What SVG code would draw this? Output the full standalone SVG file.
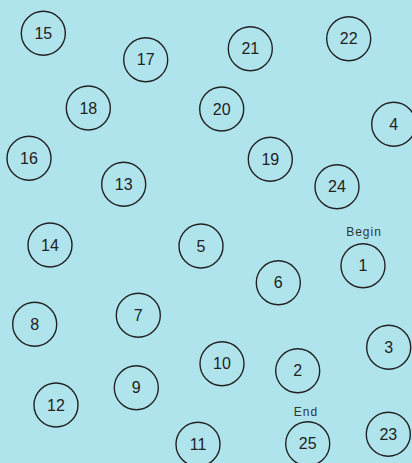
<svg xmlns="http://www.w3.org/2000/svg" width="412" height="463" viewBox="0 0 412 463">
<style>
.n circle{fill:none;stroke:#222;stroke-width:1.4}
.n text{font-family:"Liberation Sans",Arial,sans-serif;font-size:16px;fill:#222;text-anchor:middle;dominant-baseline:central}
.n text.lbl{font-size:12px;letter-spacing:1px;fill:#333;dominant-baseline:auto}
</style>
<rect width="412" height="463" fill="#b0e4ed"/>
<g id="connectors"></g>
<g id="n15" class="n"><circle cx="43.3" cy="33.3" r="22"/><text x="43.3" y="33.3">15</text></g>
<g id="n17" class="n"><circle cx="145.7" cy="59.7" r="22"/><text x="145.7" y="59.7">17</text></g>
<g id="n21" class="n"><circle cx="250.3" cy="48.7" r="22"/><text x="250.3" y="48.7">21</text></g>
<g id="n22" class="n"><circle cx="348.7" cy="38.7" r="22"/><text x="348.7" y="38.7">22</text></g>
<g id="n18" class="n"><circle cx="88.3" cy="108" r="22"/><text x="88.3" y="108">18</text></g>
<g id="n20" class="n"><circle cx="221.7" cy="109" r="22"/><text x="221.7" y="109">20</text></g>
<g id="n4" class="n"><circle cx="393.7" cy="124.3" r="22"/><text x="393.7" y="124.3">4</text></g>
<g id="n16" class="n"><circle cx="29" cy="158.3" r="22"/><text x="29" y="158.3">16</text></g>
<g id="n19" class="n"><circle cx="270.3" cy="159.3" r="22"/><text x="270.3" y="159.3">19</text></g>
<g id="n13" class="n"><circle cx="123.7" cy="184.3" r="22"/><text x="123.7" y="184.3">13</text></g>
<g id="n24" class="n"><circle cx="337" cy="186.7" r="22"/><text x="337" y="186.7">24</text></g>
<g id="n14" class="n"><circle cx="50" cy="245" r="22"/><text x="50" y="245">14</text></g>
<g id="n5" class="n"><circle cx="201" cy="246" r="22"/><text x="201" y="246">5</text></g>
<g id="n1" class="n"><circle cx="363" cy="265.7" r="22"/><text x="363" y="265.7">1</text><text class="lbl" x="364" y="236">Begin</text></g>
<g id="n6" class="n"><circle cx="278.3" cy="282.7" r="22"/><text x="278.3" y="282.7">6</text></g>
<g id="n8" class="n"><circle cx="34.7" cy="324.3" r="22"/><text x="34.7" y="324.3">8</text></g>
<g id="n7" class="n"><circle cx="138.3" cy="315.3" r="22"/><text x="138.3" y="315.3">7</text></g>
<g id="n3" class="n"><circle cx="388.7" cy="347.3" r="22"/><text x="388.7" y="347.3">3</text></g>
<g id="n10" class="n"><circle cx="222" cy="363.7" r="22"/><text x="222" y="363.7">10</text></g>
<g id="n2" class="n"><circle cx="297.7" cy="370.7" r="22"/><text x="297.7" y="370.7">2</text></g>
<g id="n9" class="n"><circle cx="136.3" cy="387.7" r="22"/><text x="136.3" y="387.7">9</text></g>
<g id="n12" class="n"><circle cx="56" cy="405" r="22"/><text x="56" y="405">12</text></g>
<g id="n25" class="n"><circle cx="307.7" cy="443.7" r="22"/><text x="307.7" y="443.7">25</text><text class="lbl" x="306" y="416">End</text></g>
<g id="n23" class="n"><circle cx="388.3" cy="434.3" r="22"/><text x="388.3" y="434.3">23</text></g>
<g id="n11" class="n"><circle cx="198" cy="444.3" r="22"/><text x="198" y="444.3">11</text></g>
</svg>
